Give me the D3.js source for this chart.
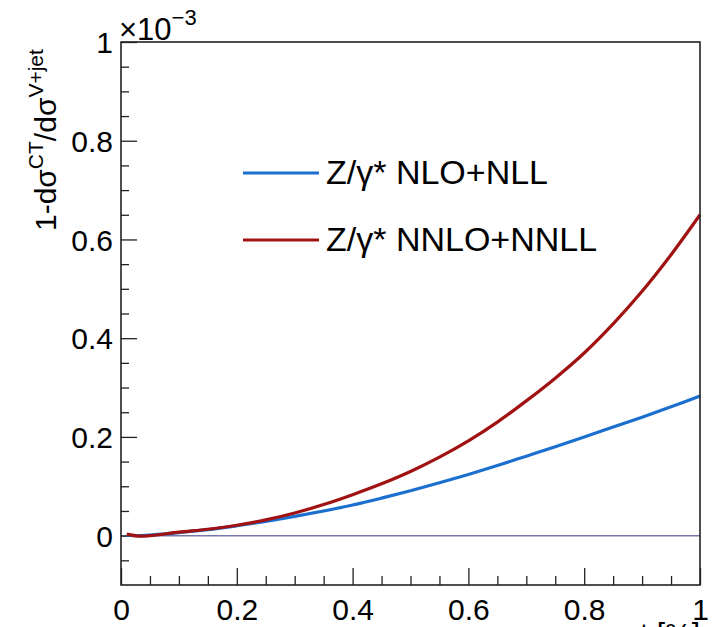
<!DOCTYPE html>
<html><head><meta charset="utf-8">
<script src="https://cdn.jsdelivr.net/npm/d3@7"></script>
<style>body{margin:0;background:#fff}svg{display:block}text{font-family:"Liberation Sans",Arial,Helvetica,sans-serif;fill:#000}</style>
</head><body>
<svg id="c" width="718" height="627"></svg>
<script>
const xVals  = [0.01,0.03,0.05,0.1,0.15,0.2,0.25,0.3,0.35,0.4,0.45,0.5,0.55,0.6,0.65,0.7,0.75,0.8,0.85,0.9,0.95,1.0];
const nloNll = [0.001,0.0,0.001,0.006,0.012,0.020,0.029,0.039,0.050,0.062,0.076,0.091,0.107,0.124,0.142,0.161,0.180,0.200,0.220,0.240,0.261,0.283];
const nnloNnll = [0.003,-0.001,0.0,0.007,0.013,0.021,0.032,0.046,0.063,0.083,0.105,0.130,0.159,0.192,0.230,0.273,0.319,0.370,0.429,0.495,0.569,0.650];
const seriesNames = ["Z/\u03b3* NLO+NLL","Z/\u03b3* NNLO+NNLL"];
const seriesColors = ["#1b6fcf","#a11212"];
const xMajor = [0,0.2,0.4,0.6,0.8,1];
const yMajor = [0,0.2,0.4,0.6,0.8,1];

const svg = d3.select("#c");
const L=121,R=700,T=42,B=585;
const x = d3.scaleLinear().domain([0,1]).range([L,R]);
const y = d3.scaleLinear().domain([-0.1,1]).range([B,T]);
const fmt = d => d===0?"0":(d===1?"1":d3.format(".1f")(d));

const xMinor = d3.range(0,1.0001,0.05).filter(v=>!xMajor.some(m=>Math.abs(m-v)<1e-6));
const yMinor = d3.range(-0.05,1.0001,0.05).filter(v=>!yMajor.some(m=>Math.abs(m-v)<1e-6));

// zero line
svg.append("line").attr("x1",x(0)).attr("x2",x(1)).attr("y1",y(0)).attr("y2",y(0))
  .attr("stroke","#7a78a8").attr("stroke-width",1.5);

// axes
const gx = svg.append("g").attr("transform",`translate(0,${B})`)
  .call(d3.axisBottom(x).tickValues(xMajor).tickSize(-17).tickPadding(12).tickFormat(fmt));
const gxm = svg.append("g").attr("transform",`translate(0,${B})`)
  .call(d3.axisBottom(x).tickValues(xMinor).tickSize(-9).tickFormat(""));
const gy = svg.append("g").attr("transform",`translate(${L},0)`)
  .call(d3.axisLeft(y).tickValues(yMajor).tickSize(-16).tickPadding(8).tickFormat(fmt));
const gym = svg.append("g").attr("transform",`translate(${L},0)`)
  .call(d3.axisLeft(y).tickValues(yMinor).tickSize(-8).tickFormat(""));
[gx,gxm,gy,gym].forEach(g=>{g.select(".domain").remove();g.selectAll("line").attr("stroke","#222").attr("stroke-width",1.3);});
gx.selectAll("text").attr("font-size",30).attr("dy","0.75em").style("font-family","Liberation Sans, Arial, sans-serif");
gy.selectAll("text").attr("font-size",30).attr("dy","0.36em").style("font-family","Liberation Sans, Arial, sans-serif");

// curves
const line = d3.line().x((d,i)=>x(xVals[i])).y(d=>y(d)).curve(d3.curveCatmullRom.alpha(0.5));
[nloNll,nnloNnll].forEach((s,k)=>{
  svg.append("path").datum(s).attr("d",line).attr("fill","none")
    .attr("stroke",seriesColors[k]).attr("stroke-width",3.2);
});

// frame
svg.append("rect").attr("x",L).attr("y",T).attr("width",R-L).attr("height",B-T)
  .attr("fill","none").attr("stroke","#222").attr("stroke-width",1.6);

// exponent
const ex = svg.append("text").attr("x",119).attr("y",40).attr("font-size",31);
ex.append("tspan").text("\u00d710");
ex.append("tspan").attr("font-size",22).attr("dy",-15).text("\u22123");

// legend
const legY=[173,240];
seriesNames.forEach((n,k)=>{
  svg.append("line").attr("x1",243).attr("x2",319).attr("y1",legY[k]).attr("y2",legY[k])
    .attr("stroke",seriesColors[k]).attr("stroke-width",3.2);
  svg.append("text").attr("x",326).attr("y",legY[k]+11).attr("font-size",34).text(n);
});

// y label
const yl = svg.append("text").attr("transform","translate(56,231) rotate(-90)").attr("font-size",30);
yl.append("tspan").text("1-d\u03c3");
yl.append("tspan").attr("font-size",21).attr("dy",-13).text("CT");
yl.append("tspan").attr("dy",13).text("/d\u03c3");
yl.append("tspan").attr("font-size",21).attr("dy",-13).text("V+jet");

// x label (partially off-canvas)
svg.append("text").attr("x",700).attr("y",644).attr("text-anchor","end").attr("font-size",30).text("r_cut [%]");
</script>
</body></html>
